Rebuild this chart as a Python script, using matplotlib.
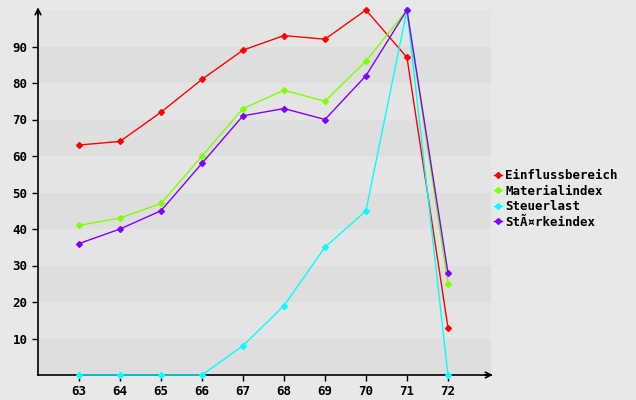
import matplotlib.pyplot as plt
import numpy as np

years = [63, 64, 65, 66, 67, 68, 69, 70, 71, 72]
einfluss = [63, 64, 72, 81, 89, 93, 92, 100, 87, 13]
material = [41, 43, 47, 60, 73, 78, 75, 86, 100, 25]
steuer = [0, 0, 0, 0, 8, 19, 35, 45, 100, 0]
staerke = [36, 40, 45, 58, 71, 73, 70, 82, 100, 28]

series = [
    ("Einflussbereich", einfluss, "#ff0000"),
    ("Materialindex", material, "#80ff00"),
    ("Steuerlast", steuer, "#00ffff"),
    ("St\u00c3\u00a4rkeindex", staerke, "#8000ff"),
]

plt.rcParams['font.family'] = ['DejaVu Sans Mono']
plt.rcParams['font.weight'] = 'bold'

fig = plt.figure(figsize=(6.36, 4.0), dpi=100, facecolor='#e8e8e8')
ax = fig.add_axes([38 / 636, 25 / 400, 453 / 636, 365 / 400])
ax.set_facecolor('#e8e8e8')

# alternating horizontal bands
for i, lo in enumerate(range(0, 100, 10)):
    ax.axhspan(lo, lo + 10, color='#dedede' if i % 2 == 0 else '#e4e4e4', lw=0, zorder=0)

for name, vals, col in series:
    ax.plot(years, vals, color=col, lw=1, marker='D', ms=3, label=name, zorder=3, clip_on=False)

ax.set_xlim(62, 73.05)
ax.set_ylim(0, 100)
ax.set_xticks(years)
ax.set_yticks(range(10, 100, 10))
ax.tick_params(direction='out', length=4, width=1, labelsize=9, colors='black')
for lab in ax.get_xticklabels() + ax.get_yticklabels():
    lab.set_fontweight('bold')

for s in ['top', 'right']:
    ax.spines[s].set_visible(False)
ax.spines['left'].set_linewidth(1.2)
ax.spines['bottom'].set_linewidth(1.2)

# axis arrows
ax.annotate('', xy=(0, 1.015), xytext=(0, 0.98), xycoords='axes fraction',
            arrowprops=dict(arrowstyle='->', lw=1.2, color='black'), annotation_clip=False)
ax.annotate('', xy=(1.01, 0), xytext=(0.98, 0), xycoords='axes fraction',
            arrowprops=dict(arrowstyle='->', lw=1.2, color='black'), annotation_clip=False)

fig.legend(loc='center left', bbox_to_anchor=(483 / 636, 1 - 199 / 400), frameon=False,
           handlelength=0.6, handletextpad=0.3, labelspacing=0.2, fontsize=9,
           prop={'weight': 'bold', 'size': 9})

fig.savefig('out.png', dpi=100, facecolor='#e8e8e8')
